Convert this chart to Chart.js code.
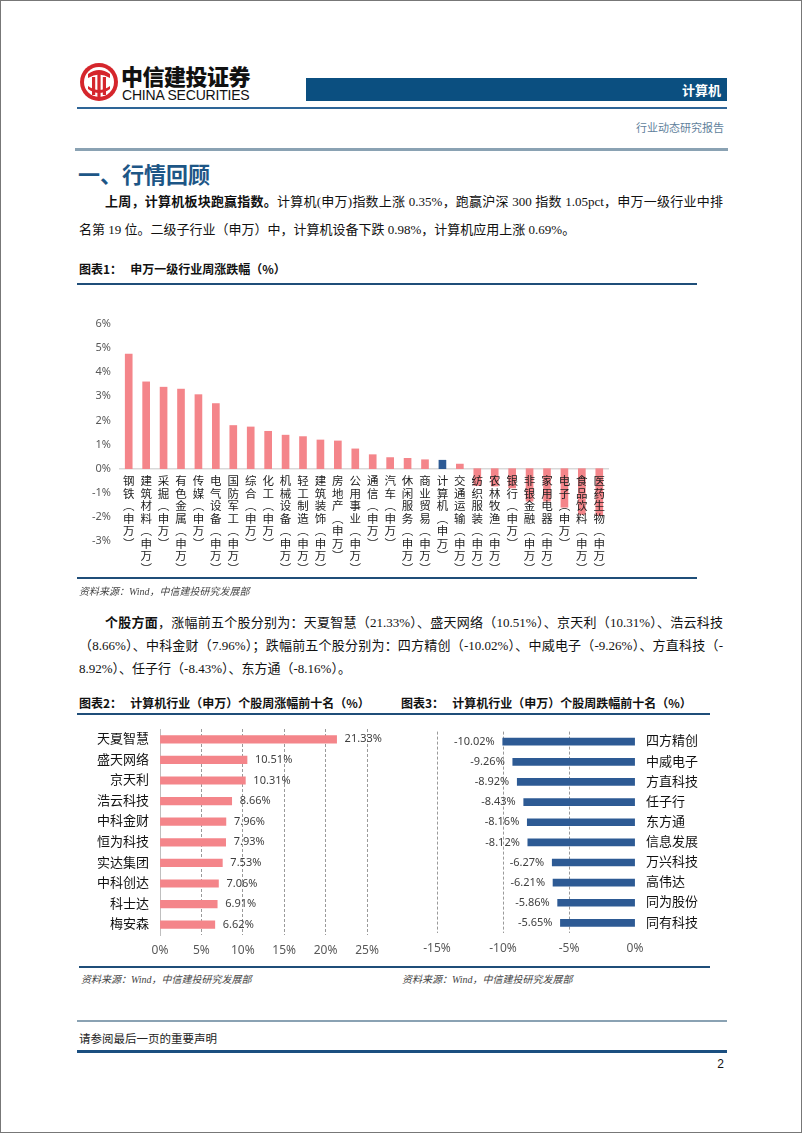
<!DOCTYPE html>
<html>
<head>
<meta charset="utf-8">
<script src="https://cdn.jsdelivr.net/npm/chart.js@4.4.0/dist/chart.umd.min.js"></script>
<style>
  html, body { margin: 0; padding: 0; background: #fff; }
  #page { position: relative; width: 800px; height: 1131px; border: 1px solid #777; overflow: hidden;
          font-family: "Liberation Serif", "Noto Sans CJK SC", serif; color: #111; }
  .abs { position: absolute; white-space: nowrap; }
  .line { position: absolute; height: 1px; }
  .txt { position: absolute; font-size: 13px; line-height: 18px; white-space: nowrap; }
  .full { text-align: justify; text-align-last: justify; }
  .ttl { position: absolute; font-family: "Noto Sans CJK SC", sans-serif; font-weight: bold; font-size: 12px; line-height: 16px; color: #111; }
  .src { position: absolute; font-size: 10px; font-style: italic; color: #444; font-family: "Liberation Serif", "Noto Sans CJK SC", serif; }
  canvas { position: absolute; }
</style>
</head>
<body>
<div id="page">
  <!-- header -->
  <svg class="abs" style="left:78px;top:61px" width="40" height="40" viewBox="0 0 40 40">
    <circle cx="20" cy="20" r="19" fill="#d5262c"/>
    <circle cx="20" cy="20" r="15" fill="#fff"/>
    <path d="M9 12 Q20 4 31 12 L31 16 Q20 9 9 16 Z" fill="#d5262c"/>
    <rect x="13" y="15" width="3.2" height="18" fill="#d5262c"/>
    <rect x="18.4" y="11" width="3.2" height="24" fill="#d5262c"/>
    <rect x="23.8" y="15" width="3.2" height="18" fill="#d5262c"/>
    <path d="M9 24 Q20 32 31 24 L31 27 Q20 35 9 27 Z" fill="#d5262c"/>
  </svg>
  <div class="abs" style="left:120px;top:60px;font-family:'Noto Sans CJK SC';font-weight:900;font-size:22px;line-height:28px;letter-spacing:-0.5px;color:#111">中信建投证券</div>
  <div class="abs" style="left:121px;top:86px;font-family:'Liberation Sans Narrow','Liberation Sans';font-size:14px;line-height:16px;color:#111;letter-spacing:-0.2px">CHINA SECURITIES</div>
  <div class="abs" style="left:305px;top:77px;width:421px;height:23px;background:#0b4f80"></div>
  <div class="abs" style="left:600px;top:79px;width:120px;text-align:right;font-family:'Noto Sans CJK SC';font-weight:bold;font-size:13px;line-height:19px;color:#fff">计算机</div>
  <div class="line" style="left:76px;top:106px;width:650px;height:1.5px;background:#2e6597"></div>
  <div class="abs" style="left:600px;top:119px;width:123px;text-align:right;font-size:11px;line-height:16px;color:#5f7f9c">行业动态研究报告</div>
  <div class="line" style="left:74px;top:147px;width:653px;height:3px;background:#8aa2b3"></div>

  <div class="abs" style="left:77px;top:157px;font-family:'Noto Sans CJK SC';font-weight:bold;font-size:22px;line-height:30px;color:#1d5686">一、行情回顾</div>

  <div class="txt full" style="left:104px;top:192px;width:618px"><b>上周，计算机板块跑赢指数。</b>计算机(申万)指数上涨 0.35%，跑赢沪深 300 指数 1.05pct，申万一级行业中排</div>
  <div class="txt" style="left:78px;top:220px">名第 19 位。二级子行业（申万）中，计算机设备下跌 0.98%，计算机应用上涨 0.69%。</div>

  <div class="ttl" style="left:78px;top:260px">图表1：&nbsp;&nbsp;&nbsp;申万一级行业周涨跌幅（%）</div>
  <div class="line" style="left:76px;top:282px;width:620px;height:2px;background:#1f4e79"></div>
  <canvas id="c1" width="620" height="277" style="left:76px;top:300px"></canvas>
  <div class="line" style="left:76px;top:576px;width:620px;height:2px;background:#1f4e79"></div>
  <div class="src" style="left:78px;top:582px">资料来源：Wind，中信建投研究发展部</div>

  <div class="txt full" style="left:104px;top:613px;width:618px"><b>个股方面</b>，涨幅前五个股分别为：天夏智慧（21.33%）、盛天网络（10.51%）、京天利（10.31%）、浩云科技</div>
  <div class="txt full" style="left:78px;top:636px;width:644px">（8.66%）、中科金财（7.96%）；跌幅前五个股分别为：四方精创（-10.02%）、中威电子（-9.26%）、方直科技（-</div>
  <div class="txt" style="left:78px;top:659px">8.92%）、任子行（-8.43%）、东方通（-8.16%）。</div>

  <div class="ttl" style="left:78px;top:694px">图表2：&nbsp;&nbsp;&nbsp;计算机行业（申万）个股周涨幅前十名（%）</div>
  <div class="ttl" style="left:400px;top:694px">图表3：&nbsp;&nbsp;&nbsp;计算机行业（申万）个股周跌幅前十名（%）</div>
  <div class="line" style="left:76px;top:712px;width:633px;height:2px;background:#1f4e79"></div>
  <canvas id="c2" width="320" height="240" style="left:78px;top:722px"></canvas>
  <canvas id="c3" width="300" height="240" style="left:420px;top:722px"></canvas>
  <div class="line" style="left:78px;top:965px;width:631px;height:2px;background:#1f4e79"></div>
  <div class="src" style="left:80px;top:970px">资料来源：Wind，中信建投研究发展部</div>
  <div class="src" style="left:401px;top:970px">资料来源：Wind，中信建投研究发展部</div>

  <!-- footer -->
  <div class="line" style="left:76px;top:1019px;width:650px;height:2px;background:#8aa2b3"></div>
  <div class="abs" style="left:78px;top:1030px;font-size:11.5px;line-height:16px;color:#222">请参阅最后一页的重要声明</div>
  <div class="line" style="left:76px;top:1049px;width:650px;height:3px;background:#1b4f80"></div>
  <div class="abs" style="left:700px;top:1055px;width:23px;text-align:right;font-family:'Liberation Sans Narrow','Liberation Sans';font-size:12px;line-height:16px;color:#111">2</div>
</div>

<script>
// chart 1: 申万一级行业周涨跌幅 (%)
const industries = ['钢铁', '建筑材料', '采掘', '有色金属', '传媒', '电气设备', '国防军工', '综合', '化工', '机械设备',
  '轻工制造', '建筑装饰', '房地产', '公用事业', '通信', '汽车', '休闲服务', '商业贸易', '计算机', '交通运输',
  '纺织服装', '农林牧渔', '银行', '非银金融', '家用电器', '电子', '食品饮料', '医药生物'];
const industryChange = [4.75, 3.60, 3.38, 3.30, 3.07, 2.70, 1.79, 1.73, 1.55, 1.39,
  1.33, 1.19, 1.15, 0.82, 0.58, 0.46, 0.43, 0.37, 0.35, 0.19,
  -0.70, -0.72, -0.80, -1.35, -1.35, -1.60, -1.90, -1.95];
const industryTicks = [-3, -2, -1, 0, 1, 2, 3, 4, 5, 6];

// chart 2: 涨幅前十
const gainNames = ['天夏智慧', '盛天网络', '京天利', '浩云科技', '中科金财', '恒为科技', '实达集团', '中科创达', '科士达', '梅安森'];
const gainValues = [21.33, 10.51, 10.31, 8.66, 7.96, 7.93, 7.53, 7.06, 6.91, 6.62];

// chart 3: 跌幅前十
const lossNames = ['四方精创', '中威电子', '方直科技', '任子行', '东方通', '信息发展', '万兴科技', '高伟达', '同为股份', '同有科技'];
const lossValues = [-10.02, -9.26, -8.92, -8.43, -8.16, -8.12, -6.27, -6.21, -5.86, -5.65];

const PINK = '#f4858a';
const BLUE = '#2d5a94';
const SANS = '"Noto Sans", "Noto Sans CJK SC", sans-serif';

// vertical label: each char on its own line, brackets turned
function verticalLabel(name) {
  return [...(name + '(申万)')].map(c => c === '(' ? '︵' : c === ')' ? '︶' : c);
}

// scales should not push the chart area in, padding is set by hand
function noEdgePadding(s) {
  s.paddingTop = 0; s.paddingBottom = 0; s.paddingLeft = 0; s.paddingRight = 0;
}

// value labels next to the bar ends
const valueLabels = {
  id: 'valueLabels',
  afterDatasetsDraw(chart, args, opts) {
    if (!opts.show) return;
    const ctx = chart.ctx;
    const vals = chart.data.datasets[0].data;
    ctx.save();
    ctx.font = '11px ' + SANS;
    ctx.fillStyle = '#404040';
    ctx.textBaseline = 'middle';
    chart.getDatasetMeta(0).data.forEach((bar, i) => {
      const v = vals[i];
      const txt = v.toFixed(2) + '%';
      if (v >= 0) {
        ctx.textAlign = 'left';
        ctx.fillText(txt, bar.x + 8, bar.y);
      } else {
        ctx.textAlign = 'right';
        ctx.fillText(txt, bar.x - 8, bar.y);
      }
    });
    ctx.restore();
  }
};

Chart.defaults.font.family = SANS;
Chart.defaults.animation = false;

new Chart(document.getElementById('c1'), {
  type: 'bar',
  data: {
    labels: industries.map(verticalLabel),
    datasets: [{
      data: industryChange,
      backgroundColor: industries.map(n => n === '计算机' ? BLUE : PINK),
      barThickness: 7
    }]
  },
  options: {
    responsive: false,
    layout: { padding: { top: 23, bottom: 37, right: 89 } },
    plugins: { legend: { display: false }, tooltip: { enabled: false } },
    scales: {
      x: {
        position: { y: 0 },
        grid: { display: false, drawTicks: false },
        border: { color: '#d9d9d9', width: 1.5 },
        ticks: {
          autoSkip: false, maxRotation: 0, minRotation: 0, padding: 7, z: 1,
          color: '#222',
          font: { size: 11.5, lineHeight: '12.5px' }
        }
      },
      y: {
        min: -3, max: 6,
        afterBuildTicks: s => { s.ticks = industryTicks.map(v => ({ value: v })); },
        grid: { display: false, drawTicks: false },
        border: { display: false },
        ticks: { padding: 9, color: '#595959', font: { size: 11 }, callback: v => v + '%' },
        afterFit: s => { s.width = 43; }
      }
    }
  }
});

new Chart(document.getElementById('c2'), {
  type: 'bar',
  data: { labels: gainNames, datasets: [{ data: gainValues, backgroundColor: PINK, barThickness: 7.5 }] },
  options: {
    indexAxis: 'y',
    responsive: false,
    layout: { padding: { top: 6, right: 32 } },
    plugins: { legend: { display: false }, tooltip: { enabled: false }, valueLabels: { show: true } },
    scales: {
      x: {
        min: 0, max: 25,
        grid: {
          drawTicks: false, lineWidth: 0.8,
          color: c => c.tick && c.tick.value === 0 ? 'rgba(0,0,0,0)' : '#808080'
        },
        border: { display: false, dash: [3, 2] },
        ticks: { stepSize: 5, padding: 8, color: '#595959', font: { size: 12 }, callback: v => v + '%' },
        afterFit: s => { s.height = 28; noEdgePadding(s); }
      },
      y: {
        grid: { display: false, drawTicks: false },
        border: { color: '#bfbfbf', width: 1 },
        ticks: { padding: 11, color: '#111', font: { size: 13 } },
        afterFit: s => { s.width = 81; noEdgePadding(s); }
      }
    }
  },
  plugins: [valueLabels]
});

new Chart(document.getElementById('c3'), {
  type: 'bar',
  data: { labels: lossNames, datasets: [{ data: lossValues, backgroundColor: BLUE, barThickness: 7 }] },
  options: {
    indexAxis: 'y',
    responsive: false,
    layout: { padding: { top: 8.6, left: 16 } },
    plugins: { legend: { display: false }, tooltip: { enabled: false }, valueLabels: { show: true } },
    scales: {
      x: {
        min: -15, max: 0,
        grid: {
          drawTicks: false, lineWidth: 0.8,
          color: c => c.tick && c.tick.value === 0 ? 'rgba(0,0,0,0)' : '#808080'
        },
        border: { display: false, dash: [3, 2] },
        ticks: { stepSize: 5, padding: 8, color: '#595959', font: { size: 12 }, callback: v => v + '%' },
        afterFit: s => { s.height = 30; noEdgePadding(s); }
      },
      y: {
        position: 'right',
        grid: { display: false, drawTicks: false },
        border: { display: false },
        ticks: { padding: 11, color: '#111', font: { size: 13 } },
        afterFit: s => { s.width = 86; noEdgePadding(s); }
      }
    }
  },
  plugins: [valueLabels]
});
</script>
</body>
</html>
